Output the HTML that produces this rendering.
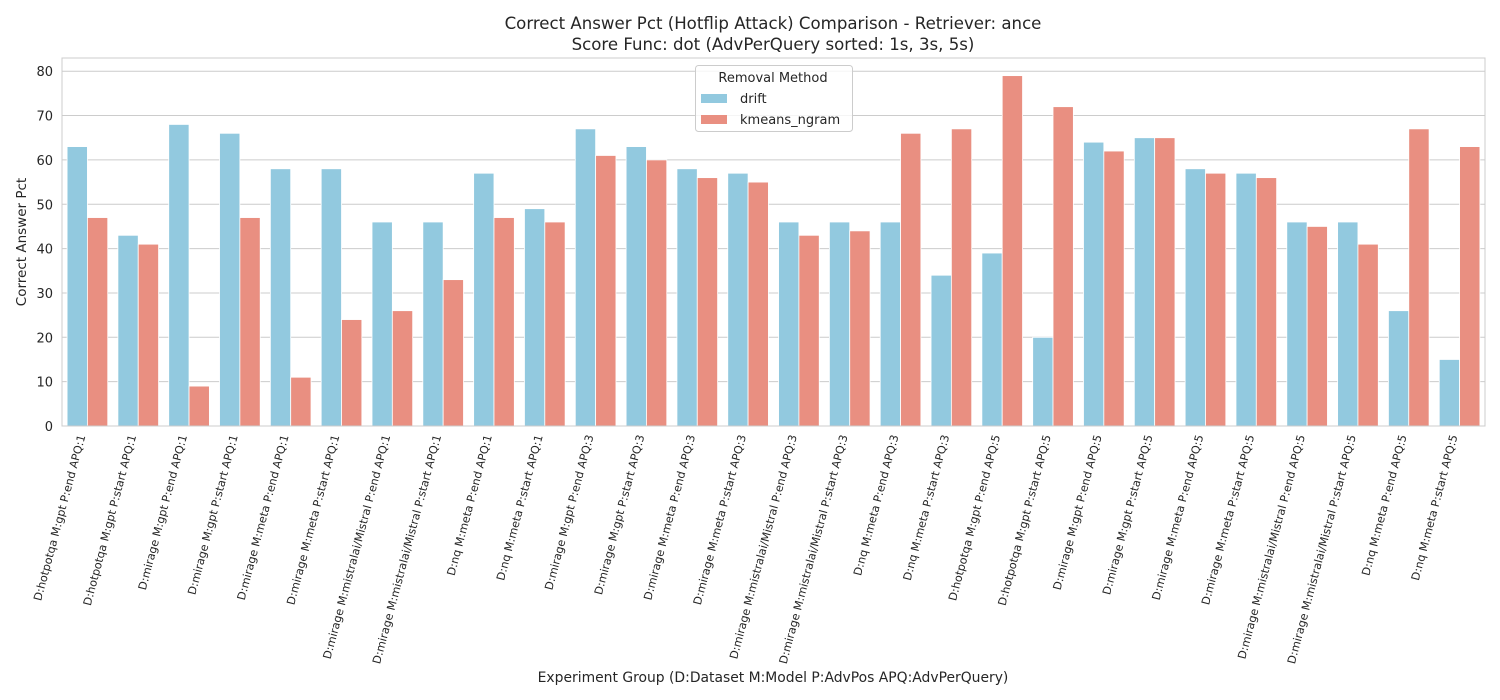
<!DOCTYPE html>
<html><head><meta charset="utf-8"><style>
body{margin:0;background:#fff;}
svg{display:block;font-family:"DejaVu Sans","Liberation Sans",sans-serif;}
</style></head><body>
<svg id="chart" width="1500" height="700" xmlns="http://www.w3.org/2000/svg">
<text x="773" y="29" text-anchor="middle" font-size="16.6" fill="#262626">Correct Answer Pct (Hotflip Attack) Comparison - Retriever: ance</text>
<text x="773" y="50" text-anchor="middle" font-size="16.6" fill="#262626">Score Func: dot (AdvPerQuery sorted: 1s, 3s, 5s)</text>
<text x="773" y="682" text-anchor="middle" font-size="13.9" fill="#262626">Experiment Group (D:Dataset M:Model P:AdvPos APQ:AdvPerQuery)</text>
<text transform="translate(26,242) rotate(-90)" text-anchor="middle" font-size="13.5" fill="#262626">Correct Answer Pct</text>
<g id="grid"></g><g id="bars"></g><g id="xlabels"></g><g id="ylabels"></g>
<rect x="62" y="58" width="1423" height="368" fill="none" stroke="#cccccc" stroke-width="1"/>
<g>
<rect x="695.5" y="65.5" width="157" height="66" rx="3" fill="#fff" fill-opacity="0.8" stroke="#cccccc"/>
<text x="773" y="82" text-anchor="middle" font-size="13" fill="#262626">Removal Method</text>
<rect x="701" y="94" width="26" height="9" fill="#92c9df"/>
<text x="740" y="103" font-size="13" fill="#262626">drift</text>
<rect x="701" y="115" width="26" height="9" fill="#e98f81"/>
<text x="740" y="124" font-size="13" fill="#262626">kmeans_ngram</text>
</g>
</svg>
<script>
const categories = ["D:hotpotqa M:gpt P:end APQ:1","D:hotpotqa M:gpt P:start APQ:1","D:mirage M:gpt P:end APQ:1","D:mirage M:gpt P:start APQ:1","D:mirage M:meta P:end APQ:1","D:mirage M:meta P:start APQ:1","D:mirage M:mistralai/Mistral P:end APQ:1","D:mirage M:mistralai/Mistral P:start APQ:1","D:nq M:meta P:end APQ:1","D:nq M:meta P:start APQ:1","D:mirage M:gpt P:end APQ:3","D:mirage M:gpt P:start APQ:3","D:mirage M:meta P:end APQ:3","D:mirage M:meta P:start APQ:3","D:mirage M:mistralai/Mistral P:end APQ:3","D:mirage M:mistralai/Mistral P:start APQ:3","D:nq M:meta P:end APQ:3","D:nq M:meta P:start APQ:3","D:hotpotqa M:gpt P:end APQ:5","D:hotpotqa M:gpt P:start APQ:5","D:mirage M:gpt P:end APQ:5","D:mirage M:gpt P:start APQ:5","D:mirage M:meta P:end APQ:5","D:mirage M:meta P:start APQ:5","D:mirage M:mistralai/Mistral P:end APQ:5","D:mirage M:mistralai/Mistral P:start APQ:5","D:nq M:meta P:end APQ:5","D:nq M:meta P:start APQ:5"];
const driftValues = [63,43,68,66,58,58,46,46,57,49,67,63,58,57,46,46,46,34,39,20,64,65,58,57,46,46,26,15];
const kmeansValues = [47,41,9,47,11,24,26,33,47,46,61,60,56,55,43,44,66,67,79,72,62,65,57,56,45,41,67,63];
const yTicks = [0,10,20,30,40,50,60,70,80];

const NS="http://www.w3.org/2000/svg";
const L=62,R=1485,Y0=426,Y80=71.2;
function y(v){return Y0-(Y0-Y80)*v/80;}
const gw=(R-L)/categories.length;
function gx(i){return L+gw*i+gw/2;}
function mk(tag,attrs,parent){const e=document.createElementNS(NS,tag);for(const k in attrs)e.setAttribute(k,attrs[k]);parent.appendChild(e);return e;}
const grid=document.getElementById('grid'),bars=document.getElementById('bars'),xl=document.getElementById('xlabels'),yl=document.getElementById('ylabels');
yTicks.forEach(t=>{
  const ln=mk('line',{x1:L,x2:R,y1:y(t),y2:y(t),stroke:'#cccccc','stroke-width':1},grid);
  
  
  const tx=mk('text',{x:L-9,y:y(t)+5,'text-anchor':'end','font-size':13,fill:'#262626'},yl);
  
  
  tx.textContent=t;
});
const bw=gw*0.4;
categories.forEach((c,i)=>{
  const cx=gx(i);
  const b1=mk('rect',{x:cx-bw,y:y(driftValues[i]),width:bw,height:Y0-y(driftValues[i]),fill:'#92c9df',stroke:'#fff','stroke-width':0.8},bars);
  
  
  const b2=mk('rect',{x:cx,y:y(kmeansValues[i]),width:bw,height:Y0-y(kmeansValues[i]),fill:'#e98f81',stroke:'#fff','stroke-width':0.8},bars);
  
  
  const t=mk('text',{transform:`translate(${cx-2},${436}) rotate(-75)`,'text-anchor':'end','font-size':11.2,fill:'#262626'},xl);
  
  
  t.textContent=c;
});
</script>
</body></html>
